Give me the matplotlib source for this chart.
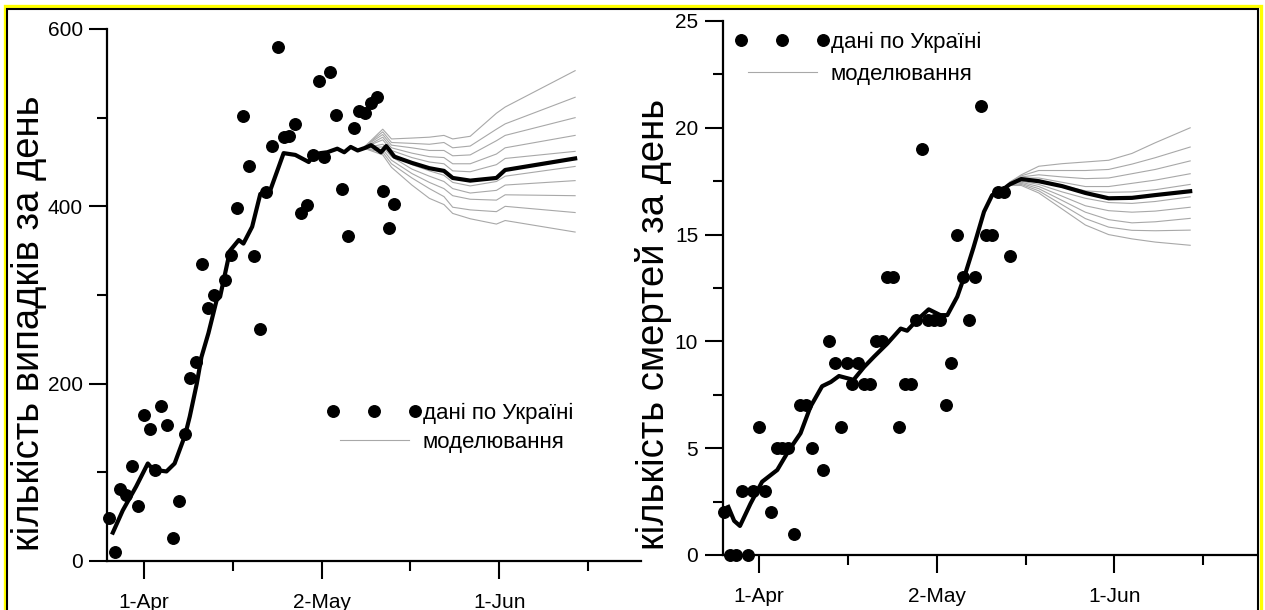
import matplotlib
matplotlib.use("Agg")
import matplotlib.pyplot as plt
from matplotlib.patches import Rectangle
from matplotlib.legend_handler import HandlerLine2D

plt.rcParams["font.family"] = ["Liberation Sans", "DejaVu Sans"]

W, H = 1265, 610

# x axis: days counted from 1-Apr-2020
tick_days = [0, 30.5, 61]
tick_labels = ["1-Apr", "2-May", "1-Jun"]
minor_days = [15.25, 45.75, 76.25]

# ---- left panel: daily cases ----
cases_days = [-6, -5, -4, -3, -2, -1, 0, 1, 2, 3, 4, 5, 6, 7, 8, 9, 10, 11, 12,
              14, 15, 16, 17, 18, 19, 20, 21, 22, 23, 24, 25, 26, 27, 28, 29, 30,
              31, 32, 33, 34, 35, 36, 37, 38, 39, 40, 41, 42, 43]
cases_vals = [48, 10, 81, 74, 107, 62, 165, 149, 103, 175, 153, 26, 68, 143, 206,
              224, 335, 285, 300, 317, 345, 398, 502, 445, 344, 262, 416, 468, 580,
              478, 479, 493, 393, 402, 458, 541, 456, 552, 503, 419, 367, 488, 508,
              505, 517, 523, 417, 376, 403]

cases_model_days = [-5.3, -3.6, -1.3, 0.7, 1.6, 3.9, 5.3, 7.1, 7.9, 9.1, 9.9, 11.1,
                    12.5, 13.1, 14.8, 16.3, 17.1, 18.6, 20, 21.7, 24, 26, 28.3, 29.2,
                    30.3, 31.5, 33.2, 34.4, 35.5, 36.7, 38, 39, 40.7, 41.6, 43, 46,
                    49, 51.5, 53, 56, 60.5, 62, 74]
cases_model = [32, 57, 84, 110, 103, 101, 110, 142, 163, 200, 230, 257, 294, 298,
               350, 362, 358, 377, 414, 418, 460, 458, 450, 458, 460, 461, 465, 461,
               467, 463, 466, 469, 461, 468, 456, 449, 443, 440, 432, 429, 432, 441,
               454]

cases_fan_days = [38, 41, 42.5, 46, 49, 51.5, 53, 56, 60.5, 62, 74]
cases_fan = [
    [468, 487, 476, 477, 478, 480, 476, 479, 505, 512, 553],
    [468, 484, 472, 471, 470, 472, 466, 468, 487, 493, 523],
    [468, 481, 469, 466, 463, 463, 457, 458, 474, 480, 500],
    [467, 478, 466, 460, 456, 455, 448, 448, 459, 466, 480],
    [467, 475, 463, 455, 450, 448, 440, 439, 447, 454, 462],
    [466, 470, 460, 447, 440, 435, 427, 423, 428, 434, 445],
    [466, 467, 456, 442, 434, 428, 420, 415, 418, 424, 429],
    [465, 464, 452, 437, 427, 420, 412, 408, 407, 413, 412],
    [465, 461, 448, 432, 420, 411, 399, 396, 394, 400, 393],
    [465, 458, 444, 424, 409, 402, 392, 386, 380, 384, 371],
]

# ---- right panel: daily deaths ----
deaths_days = [-6, -5, -4, -3, -2, -1, 0, 1, 2, 3, 4, 5, 6, 7, 8, 9,
               11, 12, 13, 14, 15, 16, 17, 18, 19, 20, 21, 22, 23, 24, 25, 26, 27,
               28, 29, 30, 31, 32, 33, 34, 35, 36, 37, 38, 39, 40, 41, 42, 43]
deaths_vals = [2, 0, 0, 3, 0, 3, 6, 3, 2, 5, 5, 5, 1, 7, 7, 5,
               4, 10, 9, 6, 9, 8, 9, 8, 8, 10, 10, 13, 13, 6, 8, 8, 11,
               19, 11, 11, 11, 7, 9, 15, 13, 11, 13, 21, 15, 15, 17, 17, 14]

deaths_model_days = [-5.3, -4.3, -3.3, -1.5, 0.5, 3.1, 5.1, 7.1, 8.8, 10.8, 12.3,
                     13.7, 14.8, 16.2, 18, 19.7, 22, 24.3, 25.4, 27.1, 29.1, 31.1,
                     32.3, 34, 35.4, 36.8, 38.6, 40, 41.7, 43, 45, 48, 52, 56, 60,
                     64, 68, 74]
deaths_model = [2.25, 1.6, 1.36, 2.4, 3.43, 3.98, 4.9, 5.7, 6.94, 7.9, 8.1, 8.38,
                8.3, 8.2, 8.8, 9.28, 9.9, 10.6, 10.5, 11.0, 11.5, 11.23, 11.23,
                12.09, 13.18, 14.4, 16.07, 16.85, 17.08, 17.35, 17.6, 17.5, 17.27,
                16.95, 16.7, 16.72, 16.85, 17.03]

deaths_fan_days = [43, 45, 48, 52, 56, 60, 64, 68, 74]
deaths_fan = [
    [17.45, 17.8, 18.2, 18.32, 18.4, 18.48, 18.8, 19.3, 20.0],
    [17.45, 17.75, 18.0, 18.0, 18.0, 18.05, 18.3, 18.6, 19.1],
    [17.4, 17.7, 17.8, 17.7, 17.62, 17.65, 17.85, 18.05, 18.45],
    [17.4, 17.65, 17.65, 17.45, 17.25, 17.25, 17.4, 17.55, 17.85],
    [17.4, 17.6, 17.55, 17.3, 17.05, 16.98, 17.0, 17.1, 17.35],
    [17.35, 17.5, 17.35, 17.0, 16.7, 16.5, 16.46, 16.55, 16.77],
    [17.35, 17.45, 17.25, 16.8, 16.35, 16.12, 16.05, 16.1, 16.28],
    [17.3, 17.4, 17.15, 16.6, 16.05, 15.7, 15.55, 15.6, 15.76],
    [17.3, 17.35, 17.05, 16.4, 15.75, 15.35, 15.2, 15.18, 15.21],
    [17.3, 17.3, 16.95, 16.2, 15.45, 15.0, 14.8, 14.65, 14.5],
]

DATA_LABEL = "дані по Україні"
MODEL_LABEL = "моделювання"
GRAY = "#a8a8a8"


def px_rect(x0, y_top, x1, y_bottom):
    """pixel box (from top-left) -> figure fraction rect"""
    return [x0 / W, 1 - y_bottom / H, (x1 - x0) / W, (y_bottom - y_top) / H]


def style_axis(ax, ymax, ymajor, yminor):
    for side in ("top", "right"):
        ax.spines[side].set_visible(False)
    for side in ("left", "bottom"):
        ax.spines[side].set_linewidth(1.6)
    ax.set_xlim(-6.3, 85.3)
    ax.set_ylim(0, ymax)
    ax.set_xticks(tick_days)
    ax.set_xticklabels(tick_labels)
    ax.set_xticks(minor_days, minor=True)
    ax.set_yticks(ymajor)
    ax.set_yticks(yminor, minor=True)
    ax.tick_params(which="major", direction="out", length=13, width=1.5,
                   labelsize=15)
    ax.tick_params(axis="x", which="major", pad=10)
    ax.tick_params(axis="y", which="major", pad=4.5)
    ax.tick_params(which="minor", direction="out", length=7, width=1.5)


def draw_panel(ax, days, vals, mdays, mvals, fdays, fan):
    gray_lines = []
    for row in fan:
        gray_lines += ax.plot(fdays, row, color=GRAY, lw=0.8, zorder=2)
    ax.plot(mdays, mvals, color="black", lw=3.0, zorder=3,
            solid_joinstyle="round")
    dots, = ax.plot(days, vals, "o", color="black", ms=8.3, ls="none", zorder=4,
                    clip_on=False)
    return dots, gray_lines[0]


def add_legend(ax, dots, gline, anchor, spacing):
    ax.legend([dots, gline], [DATA_LABEL, MODEL_LABEL], numpoints=3,
              handler_map={dots: HandlerLine2D(marker_pad=0)},
              loc="upper left", bbox_to_anchor=anchor,
              frameon=False, fontsize=16, handlelength=3.7, handletextpad=0.35,
              borderpad=0, borderaxespad=0, labelspacing=spacing)


fig = plt.figure(figsize=(W / 100, H / 100), dpi=100)

ax1 = fig.add_axes(px_rect(107, 29, 641, 561))
dots, gline = draw_panel(ax1, cases_days, cases_vals, cases_model_days,
                         cases_model, cases_fan_days, cases_fan)
style_axis(ax1, 600, [0, 200, 400, 600], [100, 300, 500])
add_legend(ax1, dots, gline, ((333 - 107) / 534, (561 - 403) / 532), 0.35)

ax2 = fig.add_axes(px_rect(722.5, 21, 1256, 555))
dots, gline = draw_panel(ax2, deaths_days, deaths_vals, deaths_model_days,
                         deaths_model, deaths_fan_days, deaths_fan)
style_axis(ax2, 25, [0, 5, 10, 15, 20, 25], [2.5, 7.5, 12.5, 17.5, 22.5])
add_legend(ax2, dots, gline, ((741 - 722.5) / 533.5, (555 - 32) / 534), 0.5)

# y titles: baseline placed on a vertical line, text centred along it
fig.text(39 / W, 1 - 323 / H, "кількість випадків за день", rotation=90,
         ha="center", va="baseline", rotation_mode="anchor", fontsize=27.5)
fig.text(664 / W, 1 - 324 / H, "кількість смертей за день", rotation=90,
         ha="center", va="baseline", rotation_mode="anchor", fontsize=27.5)

# yellow + black frame round the picture (bottom edge is cut off)
fig.add_artist(Rectangle((4.5 / W, -0.1), (1261 - 4.5) / W, 1.1 - 6 / H,
                         transform=fig.transFigure, fill=False,
                         edgecolor="#ffff00", lw=2.4))
fig.add_artist(Rectangle((7.5 / W, -0.1), (1258 - 7.5) / W, 1.1 - 8.5 / H,
                         transform=fig.transFigure, fill=False,
                         edgecolor="black", lw=1.5))

fig.savefig("out.png", dpi=100)
